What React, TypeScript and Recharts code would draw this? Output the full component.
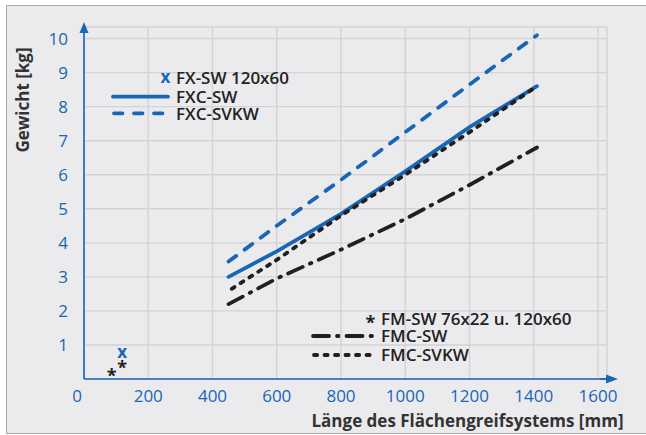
import { ComposedChart, Line, Scatter, XAxis, YAxis, CartesianGrid } from 'recharts';

const BLUE = '#1866b4';
const BLACK = '#231f20';
const FONT = '"Open Sans", "Noto Sans", sans-serif';

// tick values
const xTicks = [0, 200, 400, 600, 800, 1000, 1200, 1400, 1600];
const yTicks = [1, 2, 3, 4, 5, 6, 7, 8, 9, 10];

// FXC series (mm -> kg)
const fxcLengths = [450, 600, 800, 1000, 1200, 1410];
const fxcSwWeights = [3.0, 3.75, 4.85, 6.1, 7.4, 8.6];
const fxcSvkwWeights = [3.45, 4.5, 5.85, 7.25, 8.65, 10.1];

// FMC series
const fmcSwLengths = [450, 600, 800, 1000, 1200, 1410];
const fmcSwWeights = [2.2, 2.95, 3.8, 4.7, 5.7, 6.8];
const fmcSvkwLengths = [460, 600, 800, 1000, 1200, 1410];
const fmcSvkwWeights = [2.65, 3.5, 4.8, 6.0, 7.25, 8.6];

// single products
const fxSwLengths = [119];
const fxSwWeights = [0.75];
const fmSwLengths = [86, 119];
const fmSwWeights = [0.21, 0.43];

const toPoints = (xs: number[], ys: number[]) => xs.map((x, i) => ({ x, y: ys[i] }));

const fxcSw = toPoints(fxcLengths, fxcSwWeights);
const fxcSvkw = toPoints(fxcLengths, fxcSvkwWeights);
const fmcSw = toPoints(fmcSwLengths, fmcSwWeights);
const fmcSvkw = toPoints(fmcSvkwLengths, fmcSvkwWeights);
const fxSw = toPoints(fxSwLengths, fxSwWeights);
const fmSw = toPoints(fmSwLengths, fmSwWeights);

const XTick = ({ x, y, payload }: any) => (
  <text x={payload.value === 0 ? x - 7 : x} y={y + 23} textAnchor="middle" fill={BLUE} fontSize={17} fontFamily={FONT}>
    {payload.value}
  </text>
);

const YTick = ({ x, y, payload }: any) => (
  <text x={x - 16} y={y + 6} textAnchor="end" fill={BLUE} fontSize={17} fontFamily={FONT}>
    {payload.value}
  </text>
);

const XMark = ({ cx, cy }: any) => (
  <text x={cx} y={cy + 5} textAnchor="middle" fill={BLUE} fontSize={17} fontWeight={700} fontFamily={FONT}>x</text>
);

const StarMark = ({ cx, cy }: any) => (
  <text x={cx} y={cy + 10} textAnchor="middle" fill={BLACK} fontSize={18} fontWeight={700} fontFamily={FONT}>*</text>
);

const lineStyle = { strokeWidth: 3.8, strokeLinecap: 'round' as const, dot: false, activeDot: false, isAnimationActive: false, type: 'linear' as const };

const DASH_FXC_SVKW = '9.5 10.5';
const DASH_FMC_SVKW = '3.2 7.3';
const DASH_FMC_SW = '16 8 1.5 8';

export default function App() {
  return (
    <div style={{ position: 'relative', width: 646, height: 435, fontFamily: FONT, overflow: 'hidden', background: '#fff' }}>
      <style>{'body{margin:0} .recharts-line-curve{stroke-linecap:round}'}</style>
      <div style={{ position: 'absolute', left: 6, top: 5, width: 645, height: 427, border: '1px solid #a9a9ab', background: '#ebebee' }} />
      <div style={{ position: 'absolute', left: 0, top: 0 }}>
        <ComposedChart width={646} height={435} margin={{ top: 27, right: 39, left: 24, bottom: 26 }}>
          <CartesianGrid stroke="#d3d3d6" strokeWidth={1.4} />
          <XAxis
            dataKey="x"
            type="number"
            domain={[0, 1628]}
            ticks={xTicks}
            allowDataOverflow
            height={30}
            tickSize={0}
            tickMargin={0}
            tickLine={false}
            axisLine={{ stroke: BLUE, strokeWidth: 1.6 }}
            tick={<XTick />}
          />
          <YAxis
            dataKey="y"
            type="number"
            domain={[0, 10.34]}
            ticks={yTicks}
            allowDataOverflow
            width={60}
            tickSize={0}
            tickMargin={0}
            tickLine={false}
            axisLine={{ stroke: BLUE, strokeWidth: 1.6 }}
            tick={<YTick />}
          />
          <Line data={fxcSvkw} dataKey="y" stroke={BLUE} strokeDasharray={DASH_FXC_SVKW} {...lineStyle} />
          <Line data={fxcSw} dataKey="y" stroke={BLUE} {...lineStyle} />
          <Line data={fmcSw} dataKey="y" stroke={BLACK} strokeDasharray={DASH_FMC_SW} {...lineStyle} />
          <Line data={fmcSvkw} dataKey="y" stroke={BLACK} strokeDasharray={DASH_FMC_SVKW} {...lineStyle} />
          <Scatter data={fxSw} dataKey="y" shape={<XMark />} isAnimationActive={false} />
          <Scatter data={fmSw} dataKey="y" shape={<StarMark />} isAnimationActive={false} />
        </ComposedChart>
      </div>
      <svg width={646} height={435} style={{ position: 'absolute', left: 0, top: 0, pointerEvents: 'none' }} fontFamily={FONT}>
        {/* axis arrows */}
        <polygon points="84,22 79.5,33 88.5,33" fill={BLUE} />
        <polygon points="618,379 606,374.5 606,383.5" fill={BLUE} />
        <line x1={600} y1={379} x2={607} y2={379} stroke={BLUE} strokeWidth={1.6} />

        {/* axis titles */}
        <text x={22} y={100} transform="rotate(-90 22 100)" textAnchor="middle" dominantBaseline="central" fontSize={17} fontWeight={700} fill="#333">
          Gewicht [kg]
        </text>
        <text x={467.5} y={426.5} textAnchor="middle" fontSize={17} fontWeight={700} fill="#333">
          Länge des Flächengreifsystems [mm]
        </text>

        {/* upper legend */}
        <text x={165.5} y={82.5} textAnchor="middle" fontSize={17} fontWeight={700} fill={BLUE}>x</text>
        <text x={176} y={84} fontSize={17} fontWeight={600} fill="#222">FX-SW 120x60</text>
        <line x1={113} y1={96.7} x2={168} y2={96.7} stroke={BLUE} strokeWidth={3.8} strokeLinecap="round" />
        <text x={176} y={103} fontSize={17} fontWeight={600} fill="#222">FXC-SW</text>
        <line x1={114} y1={113.3} x2={168} y2={113.3} stroke={BLUE} strokeWidth={3.8} strokeLinecap="round" strokeDasharray="8.5 11.5" />
        <text x={176} y={119.5} fontSize={17} fontWeight={600} fill="#222">FXC-SVKW</text>

        {/* lower legend */}
        <text x={370.5} y={329} textAnchor="middle" fontSize={18} fontWeight={700} fill={BLACK}>*</text>
        <text x={381} y={325} fontSize={17} fontWeight={600} fill="#222">FM-SW 76x22 u. 120x60</text>
        <line x1={313} y1={336} x2={372} y2={336} stroke={BLACK} strokeWidth={3.8} strokeLinecap="round" strokeDasharray={DASH_FMC_SW} />
        <text x={381} y={342} fontSize={17} fontWeight={600} fill="#222">FMC-SW</text>
        <line x1={314} y1={355} x2={372} y2={355} stroke={BLACK} strokeWidth={3.8} strokeLinecap="round" strokeDasharray={DASH_FMC_SVKW} />
        <text x={381} y={361} fontSize={17} fontWeight={600} fill="#222">FMC-SVKW</text>
      </svg>
    </div>
  );
}
